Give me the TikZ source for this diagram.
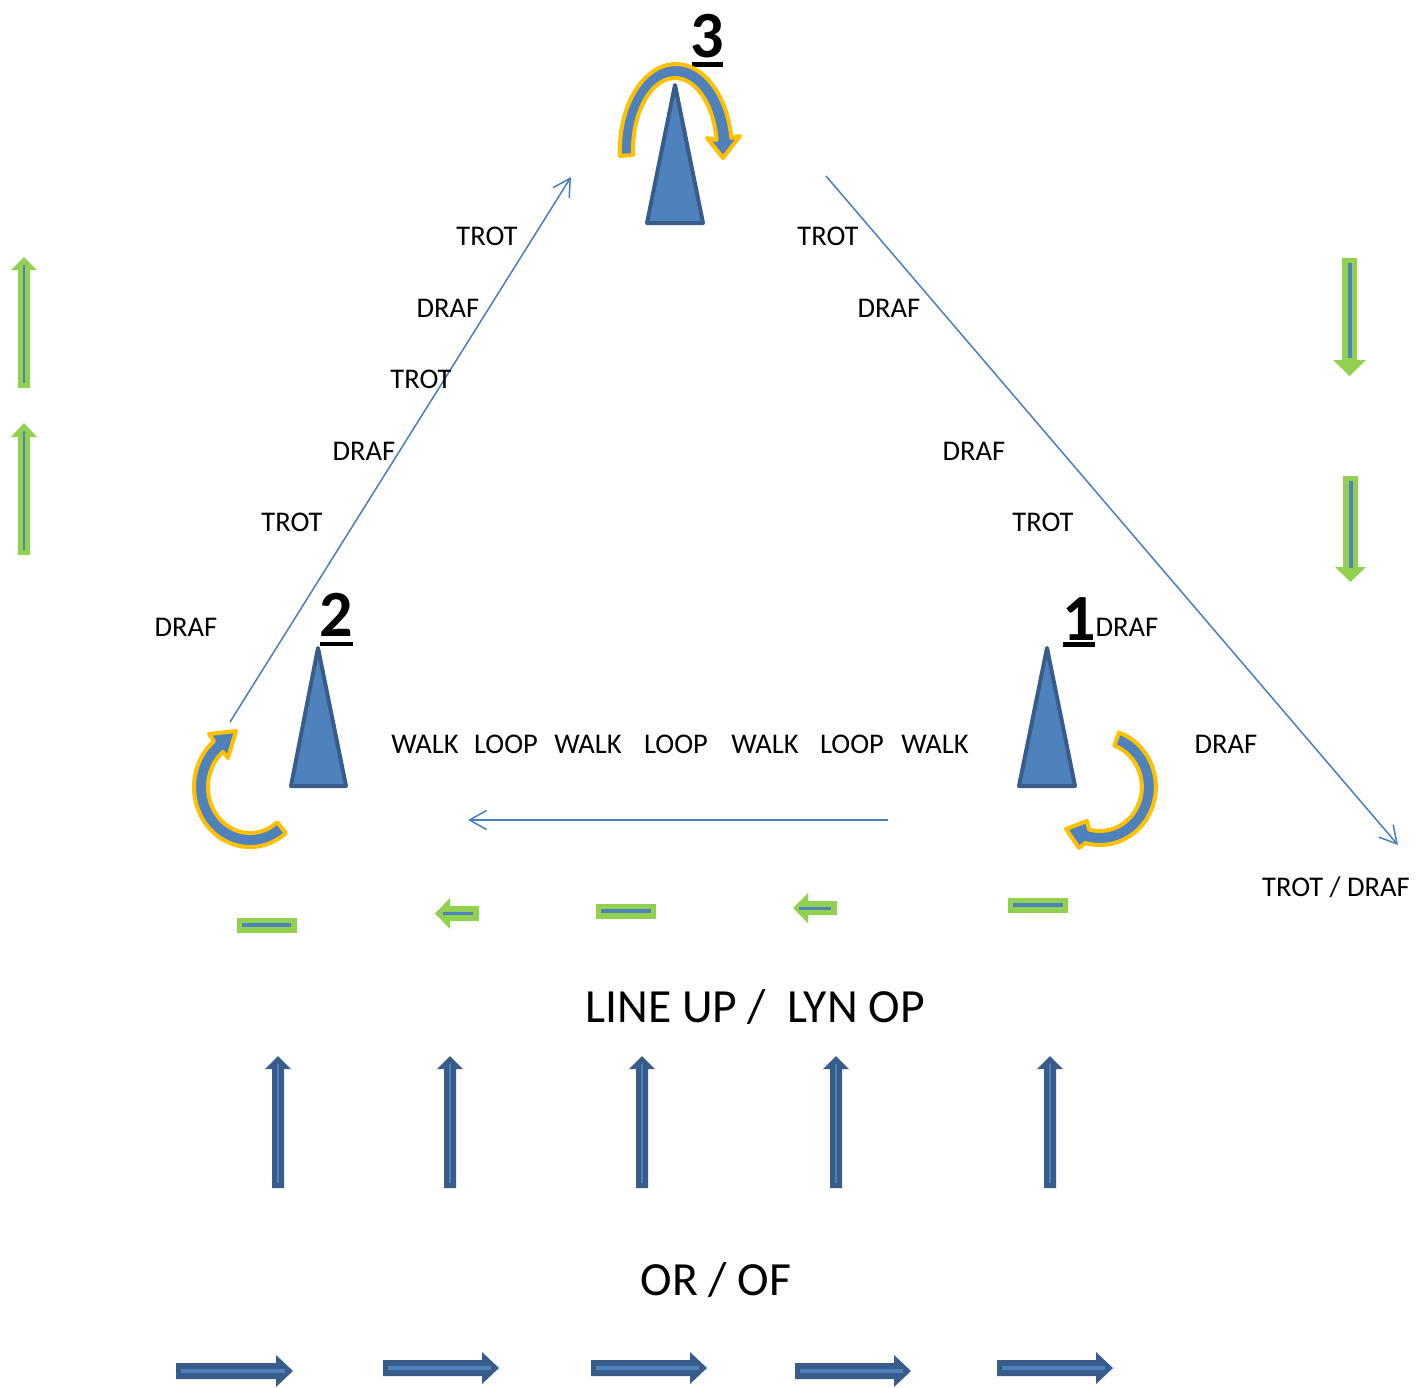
\documentclass[tikz,border=0pt]{standalone}
\usepackage{fontspec}
\setmainfont{Carlito}
\usetikzlibrary{arrows.meta}
\definecolor{cfill}{HTML}{4F81BD}
\definecolor{cline}{HTML}{385D8A}
\definecolor{thinblue}{HTML}{4A7EBB}
\definecolor{grn}{HTML}{92D050}
\definecolor{org}{HTML}{FFC000}
\begin{document}
\begin{tikzpicture}[x=1pt,y=1pt,
  cone/.style={fill=cfill,draw=cline,line width=4pt,line join=round},
  lbl/.style={anchor=base,inner sep=0pt,font=\fontsize{28.5}{34}\selectfont},
  big/.style={anchor=base,inner sep=0pt,font=\fontsize{47.6}{56}\selectfont},
  num/.style={anchor=base,inner sep=0pt,font=\fontsize{66}{78}\selectfont\bfseries},
  route/.style={draw=thinblue,line width=1.5pt,-{Straight Barb[length=17pt,width=19pt]}},
  curv/.style={fill=cfill,draw=org,line width=4pt,line join=round},
  inner/.style={draw=cfill,line width=#1},
  inner/.default=3pt]
\fill[white] (0,0) rectangle (1416,-1387);
\useasboundingbox (0,0) rectangle (1416,-1387);

% cones
\draw[cone] (675,-85) -- (703,-223) -- (647,-223) -- cycle;
\draw[cone] (318,-648) -- (346,-786) -- (291,-786) -- cycle;
\draw[cone] (1047,-648) -- (1075,-786) -- (1019,-786) -- cycle;

% numbers
\node[num] (n3) at (707,-57) {3};
\fill (692,-62) rectangle (723,-67);
\node[num] (n2) at (336,-636) {2};
\fill (320,-642) rectangle (353,-646);
\node[num] (n1) at (1079,-640) {1};
\fill (1063,-642) rectangle (1095,-647);

% curved arrows
\draw[curv] (620,-156) arc[start angle=184,end angle=8,x radius=56pt,y radius=86pt]
  -- (740,-136) -- (723,-158) -- (707,-138) -- (716.6,-140)
  arc[start angle=8,end angle=184,x radius=42pt,y radius=72pt] -- cycle;
\draw[curv] (286,-833) arc[start angle=-50,end angle=-230,x radius=56pt,y radius=60pt]
  -- (209,-734) -- (236,-731) -- (228,-758) -- (223,-751.8)
  arc[start angle=130,end angle=310,x radius=42pt,y radius=46pt] -- cycle;
\draw[curv] (1119,-732.5) arc[start angle=70,end angle=-105,x radius=56pt,y radius=58pt]
  -- (1079,-848) -- (1066,-829) -- (1087,-821) -- (1089,-829.5)
  arc[start angle=-105,end angle=70,x radius=42pt,y radius=44pt] -- cycle;

% routes
\coordinate (a1) at (230,-722); \coordinate (a2) at (571,-177);
\coordinate (b1) at (826,-176); \coordinate (b2) at (1398,-845);
\coordinate (c1) at (888,-820); \coordinate (c2) at (468,-820);
\draw[route] (a1) -- (a2);
\draw[route] (b1) -- (b2);
\draw[route] (c1) -- (c2);

% labels left side
\node[lbl] (l1) at (487,-245) {TROT};
\node[lbl] (l2) at (448,-317) {DRAF};
\node[lbl] (l3) at (421,-388) {TROT};
\node[lbl] (l4) at (364,-460) {DRAF};
\node[lbl] (l5) at (292,-531) {TROT};
\node[lbl] (l6) at (186,-636) {DRAF};
% labels right side
\node[lbl] (r1) at (828,-245) {TROT};
\node[lbl] (r2) at (889,-317) {DRAF};
\node[lbl] (r3) at (974,-460) {DRAF};
\node[lbl] (r4) at (1043,-531) {TROT};
\node[lbl] (r5) at (1127,-636) {DRAF};
\node[lbl] (r6) at (1226,-753) {DRAF};
\node[lbl] (r7) at (1336,-896) {TROT / DRAF};
% walk loop
\node[lbl] (w1) at (425,-753) {WALK};
\node[lbl] (w2) at (506,-753) {LOOP};
\node[lbl] (w3) at (588,-753) {WALK};
\node[lbl] (w4) at (676,-753) {LOOP};
\node[lbl] (w5) at (765,-753) {WALK};
\node[lbl] (w6) at (852,-753) {LOOP};
\node[lbl] (w7) at (935,-753) {WALK};

% big texts
\node[big] (lineup) at (755,-1022) {LINE UP /~ LYN OP};
\node[big] (orof) at (716,-1295) {OR / OF};

% green vertical arrows, left (up)
\fill[grn] (18,-388) -- (18,-270) -- (11,-270) -- (24,-257) -- (37,-270) -- (30,-270) -- (30,-388) -- cycle;
\draw[inner=2pt] (24,-383) -- (24,-265);
\fill[grn] (18,-555) -- (18,-437) -- (11,-437) -- (24,-423) -- (37,-437) -- (30,-437) -- (30,-555) -- cycle;
\draw[inner=2pt] (24,-550) -- (24,-431);

% green vertical arrows, right (down)
\fill[grn] (1342,-258) -- (1342,-360) -- (1333,-360) -- (1349.5,-376) -- (1366,-360) -- (1357,-360) -- (1357,-258) -- cycle;
\draw[inner=4pt] (1349.5,-263) -- (1349.5,-358);
\fill[grn] (1343,-476) -- (1343,-567) -- (1335,-567) -- (1350.5,-582) -- (1366,-567) -- (1358,-567) -- (1358,-476) -- cycle;
\draw[inner=4pt] (1350.5,-481) -- (1350.5,-568);

% green dashes and left arrows
\fill[grn] (236.5,-917.5) rectangle (296.5,-932.5);
\draw[inner=4pt] (242,-925) -- (291,-925);
\fill[grn] (596,-903.5) rectangle (656,-918.5);
\draw[inner=4pt] (601,-911) -- (651,-911);
\fill[grn] (1008,-897.5) rectangle (1068,-912.5);
\draw[inner=4pt] (1013,-905) -- (1063,-905);
\fill[grn] (479,-906) -- (450,-906) -- (450,-898) -- (435,-913.5) -- (450,-929) -- (450,-921) -- (479,-921) -- cycle;
\draw[inner=3pt] (443,-913.5) -- (473,-913.5);
\fill[grn] (837,-901) -- (808,-901) -- (808,-893) -- (793,-908) -- (808,-923) -- (808,-915) -- (837,-915) -- cycle;
\draw[inner=3pt] (799,-908) -- (831,-908);

% blue vertical arrows
\foreach \x in {278,450,642,836,1050}{
  \fill[cline] (\x-6,-1188) -- (\x-6,-1069) -- (\x-13,-1069) -- (\x,-1056) -- (\x+13,-1069) -- (\x+6,-1069) -- (\x+6,-1188) -- cycle;
  \draw[inner=2.5pt] (\x,-1183) -- (\x,-1064);
}
% blue horizontal arrows
\foreach \a/\b/\y in {176/293/1371,383/499/1368,591/707/1368,795/911/1371,997/1113/1368}{
  \fill[cline] (\a,-\y+8) -- (\b-17,-\y+8) -- (\b-17,-\y+16) -- (\b,-\y) -- (\b-17,-\y-16) -- (\b-17,-\y-8) -- (\a,-\y-8) -- cycle;
  \draw[inner=4.5pt] (\a+5,-\y) -- (\b-8,-\y);
}
\end{tikzpicture}
\end{document}
